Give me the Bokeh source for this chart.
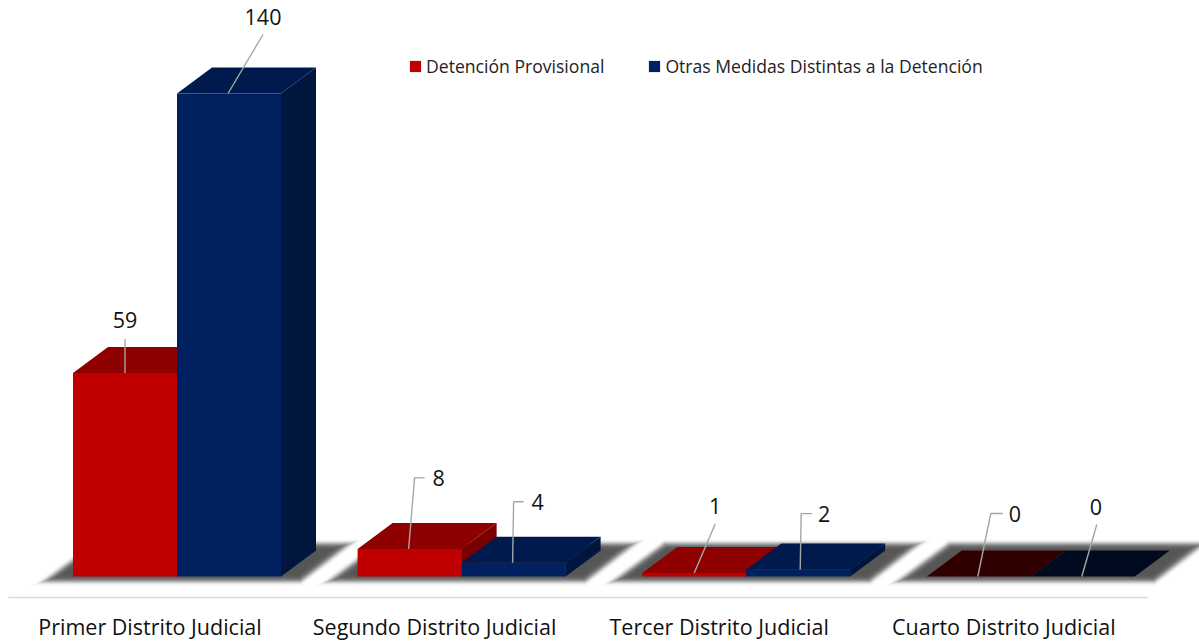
import math
from bokeh.plotting import figure
from bokeh.models import ColumnDataSource, FixedTicker, LinearAxis, Legend, LegendItem
from bokeh.core.properties import value
from bokeh.embed import file_html
from bokeh.resources import INLINE

# ---- data
categories = ["Primer Distrito Judicial", "Segundo Distrito Judicial",
              "Tercer Distrito Judicial", "Cuarto Distrito Judicial"]
detencion = [59, 8, 1, 0]
otras = [140, 4, 2, 0]
series_names = ["Detención Provisional", "Otras Medidas Distintas a la Detención"]

# ---- layout and style
W, H = 1199, 641
PX_X = 284.6          # pixels per category
PX_Y = 3.45           # pixels per unit of value
X0_PX = 149.5         # pixel of the first category's tick
BASE_PX = 576.0       # pixel of value zero
AXIS_PX = 597.0       # pixel of the axis line
BAR_W = 104 / PX_X
BAR_SHIFT = 27 / PX_X # bars' shared edge relative to the tick
DX, DY = 35 / PX_X, 26 / PX_Y
FONT = "Open Sans"
COL = {
    "r": dict(front="#C00000", top="#8F0000", side="#790000", zero="#300000"),
    "b": dict(front="#002060", top="#001A4D", side="#00163F", zero="#000B20"),
}

def xd(px):  # pixel offset to x data
    return px / PX_X
def yd(px):  # pixel offset (upwards) to value data
    return px / PX_Y

p = figure(width=W, height=H, output_backend="svg", toolbar_location=None,
           x_range=(-X0_PX / PX_X, (W - X0_PX) / PX_X),
           y_range=(-(H - BASE_PX) / PX_Y, BASE_PX / PX_Y),
           x_axis_location=None, y_axis_location=None,
           min_border=0, outline_line_color=None)
p.grid.visible = False

# ---- floor shadows: stacked translucent parallelograms, soft at the rim
layers = 16
for k in range(layers):
    xs, ys = [], []
    ins = k * 0.8
    for i in range(len(categories)):
        c = i + BAR_SHIFT - BAR_W
        xs.append([c + xd(-44 + ins * 3.0), c + xd(229 - ins * 0.33),
                   c + xd(292 - ins * 3.0), c + xd(21 + ins * 0.33)])
        ys.append([yd(-10 + ins), yd(-10 + ins), yd(38 - ins), yd(38 - ins)])
    p.patches(xs, ys, fill_color="#000000", line_color=None,
              fill_alpha=0.008 + 0.115 * math.sin(math.pi * k / (layers - 1)) ** 2)

# ---- 3D bars
def bar_faces(values, offset, key):
    top, side = dict(xs=[], ys=[], c=[]), dict(xs=[], ys=[], c=[])
    left, right, bottom, up = [], [], [], []
    c = COL[key]
    for i, v in enumerate(values):
        l = i + BAR_SHIFT + offset
        r = l + BAR_W
        top["xs"].append([l, r, r + DX, l + DX])
        top["ys"].append([v, v, v + DY, v + DY])
        top["c"].append(c["top"] if v > 0 else c["zero"])
        side["xs"].append([r, r + DX, r + DX, r])
        side["ys"].append([0, DY, v + DY, v])
        side["c"].append(c["side"] if v > 0 else c["zero"])
        left.append(l); right.append(r); bottom.append(0); up.append(v)
    p.patches("xs", "ys", fill_color="c", line_color=None, source=ColumnDataSource(side))
    p.patches("xs", "ys", fill_color="c", line_color=None, source=ColumnDataSource(top))
    return p.quad(left=left, right=right, bottom=bottom, top=up,
                  fill_color=c["front"], line_color=None)

r_red = bar_faces(detencion, -BAR_W, "r")
r_blue = bar_faces(otras, 0, "b")

# ---- data labels with leader lines
bars = [(i, -1, v) for i, v in enumerate(detencion)] + [(i, 0, v) for i, v in enumerate(otras)]
label_off = {
    (0, -1): (0, 0, 53, [(0, 0), (0, 34)]),
    (1, -1): (-1, 30, 71, [(0, 0), (6, 71), (16, 71)]),
    (2, -1): (0, 21, 67, [(0, 0), (21, 49)]),
    (3, -1): (-1, 37, 63, [(0, 0), (13, 63), (25, 63)]),
    (0, 0): (-1, 35, 77, [(0, 0), (35, 59)]),
    (1, 0): (-1, 25, 61, [(0, 0), (1, 61), (11, 61)]),
    (2, 0): (2, 24, 56, [(0, 0), (1, 56), (12, 56)]),
    (3, 0): (-1, 14, 70, [(0, 0), (15, 52)]),
}
lx, ly, tx, ty, tt = [], [], [], [], []
for i, s, v in bars:
    adx, ox, oy, path = label_off[(i, s)]
    ax = i + BAR_SHIFT + (s + 0.5) * BAR_W + xd(adx)
    lx.append([ax + xd(a) for a, b in path])
    ly.append([v + yd(b) for a, b in path])
    tx.append(ax + xd(ox)); ty.append(v + yd(oy)); tt.append(str(v))
p.multi_line(lx, ly, line_color="#A6A6A6", line_width=1.4)
p.text(tx, ty, text=tt, text_font=value(FONT), text_font_size="21.5px",
       text_align="center", text_baseline="middle", text_color="#111111")

# ---- category axis, pinned inside the frame
ax = LinearAxis(ticker=FixedTicker(ticks=list(range(len(categories)))),
                major_label_overrides={i: c for i, c in enumerate(categories)},
                major_tick_line_color=None, minor_tick_line_color=None,
                axis_line_color="#D9D9D9", axis_line_width=1.6,
                fixed_location=yd(BASE_PX - AXIS_PX),
                bounds=(-X0_PX / PX_X + xd(8), -X0_PX / PX_X + xd(1147)),
                major_label_text_font=FONT, major_label_text_font_size="21.5px",
                major_label_text_color="#111111", major_label_standoff=8,
                major_label_orientation="horizontal")
p.add_layout(ax, "below")

# ---- legend
leg = Legend(items=[LegendItem(label=series_names[0], renderers=[r_red]),
                    LegendItem(label=series_names[1], renderers=[r_blue])],
             orientation="horizontal", location=(408, H - 78),
             label_text_font=FONT, label_text_font_size="17.6px", label_text_color="#222222",
             glyph_width=14, glyph_height=14, label_standoff=4, spacing=43,
             padding=0, margin=0, border_line_color=None, background_fill_alpha=0,
             label_height=14)
p.add_layout(leg, "center")

open("out.html", "w").write(file_html(p, INLINE))
